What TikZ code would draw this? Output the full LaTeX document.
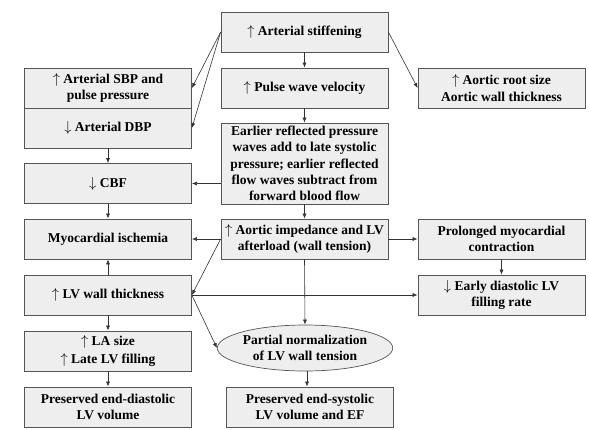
\documentclass[tikz,border=0pt]{standalone}
\usepackage{fontspec}
\setmainfont{Liberation Serif}
\usetikzlibrary{arrows.meta,shapes.geometric}
\definecolor{boxfill}{HTML}{EEEEEE}
\definecolor{boxline}{HTML}{555555}
\newcommand{\upar}{$\big\uparrow$}
\newcommand{\dnar}{$\big\downarrow$}
\begin{document}
\begin{tikzpicture}[x=1pt,y=-1pt,
  every node/.style={font=\fontsize{13.5}{16.3}\selectfont\bfseries, align=center, inner sep=1pt},
  box/.style={draw=boxline, fill=boxfill, line width=0.7pt, minimum width=167pt, minimum height=40pt},
  con/.style={draw=black!80, line width=0.6pt, -{Latex[length=5pt,width=4pt]}}]
\useasboundingbox (0,0) rectangle (589,429);
% left column
\node[box] (sbp) at (108,88) {\upar{} Arterial SBP and\\pulse pressure};
\node[box] (dbp) at (108,128) {\dnar{} Arterial DBP};
\node[box] (cbf) at (108,183.5) {\dnar{} CBF};
\node[box] (myo) at (108,239) {Myocardial ischemia};
\node[box] (lvw) at (108,295) {\upar{} LV wall thickness};
\node[box] (la) at (108,351) {$\uparrow$ LA size\\[2pt]$\uparrow$ Late LV filling};
\node[box] (ped) at (108,407) {Preserved end-diastolic\\LV volume};
% center column
\node[box] (stf) at (304.5,32) {\upar{} Arterial stiffening};
\node[box] (pwv) at (304.5,88) {\upar{} Pulse wave velocity};
\node[box, minimum height=81pt] (erl) at (304.5,163.5) {Earlier reflected pressure\\waves add to late systolic\\pressure; earlier reflected\\flow waves subtract from\\forward blood flow};
\node[box] (aim) at (304.5,239) {\upar{} Aortic impedance and LV\\afterload (wall tension)};
\node[draw=boxline, fill=boxfill, line width=0.7pt, ellipse, minimum width=167pt, minimum height=46pt, inner sep=0pt] (ell) at (305,348) {Partial normalization\\of LV wall tension};
\node[box] (pes) at (310,407) {Preserved end-systolic\\LV volume and EF};
% right column
\node[box] (root) at (501.5,88) {\upar{} Aortic root size\\Aortic wall thickness};
\node[box] (prol) at (501.5,239) {Prolonged myocardial\\contraction};
\node[box] (early) at (501.5,295) {\dnar{} Early diastolic LV\\filling rate};
% connectors
\draw[con] (stf.west) -- (sbp.east);
\draw[con] (stf.west) -- (dbp.east);
\draw[con] (stf.east) -- (root.west);
\draw[con] (stf.south) -- (pwv.north);
\draw[con] (pwv.south) -- (erl.north);
\draw[con] (erl.south) -- (aim.north);
\draw[con] (erl.west |- cbf.east) -- (cbf.east);
\draw[con] (dbp.south) -- (cbf.north);
\draw[con] (cbf.south) -- (myo.north);
\draw[con] (aim.west) -- (myo.east);
\draw[con] (aim.west) -- (lvw.east);
\draw[con] (lvw.north) -- (myo.south);
\draw[con] (lvw.south) -- (la.north);
\draw[con] (la.south) -- (ped.north);
\draw[con] (lvw.east) -- (early.west);
\draw[con] (lvw.east) -- (ell.west);
\draw[con] (aim.south) -- (ell.north);
\coordinate (es) at (307,371);
\draw[con] (es) -- (es |- pes.north);
\draw[con] (aim.east) -- (prol.west);
\draw[con] (prol.south) -- (early.north);
\end{tikzpicture}
\end{document}
